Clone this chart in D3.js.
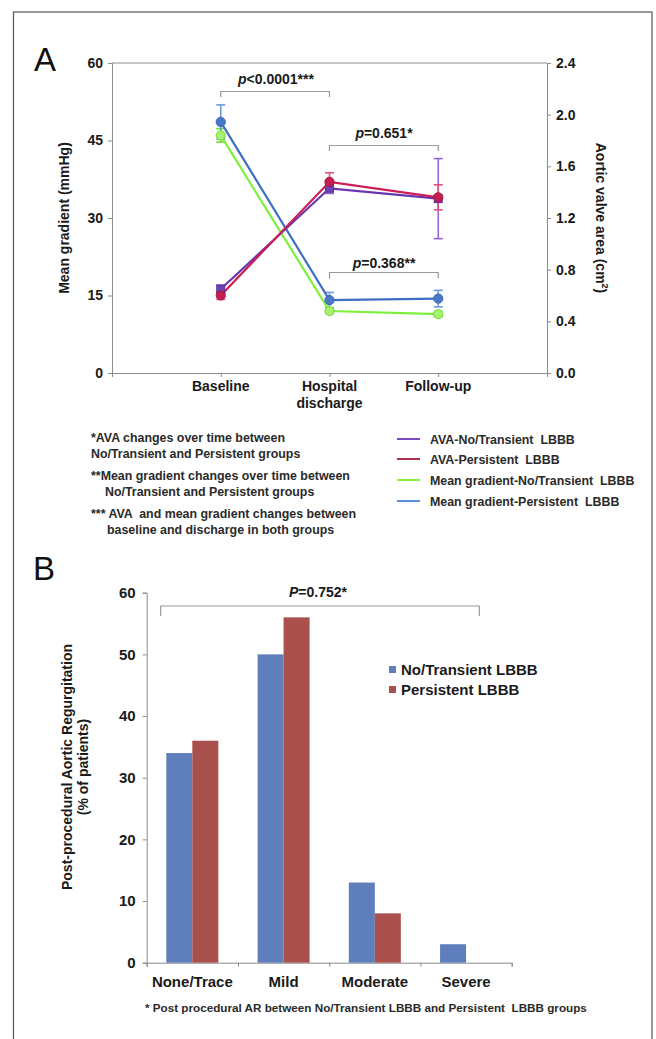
<!DOCTYPE html>
<html>
<head>
<meta charset="utf-8">
<script src="https://cdn.jsdelivr.net/npm/d3@7"></script>
<style>
  html, body { margin: 0; padding: 0; background: #fff; }
  svg { display: block; font-family: "Liberation Sans", Arial, sans-serif; }
</style>
</head>
<body>
<svg id="chart" width="656" height="1039"></svg>
<script>
// ---------- Panel A data ----------
const categoriesA = ["Baseline", "Hospital|discharge", "Follow-up"];
const gradNoTransient = [46.0, 12.0, 11.4];
const gradNoTransientErr = [1.3, 0.5, 0.5];
const gradPersistent = [48.6, 14.1, 14.4];
const gradPersistentErr = [3.3, 1.5, 1.6];
const avaNoTransient = [0.65, 1.43, 1.35];
const avaNoTransientErr = [0.03, 0.04, 0.31];
const avaPersistent = [0.60, 1.48, 1.36];
const avaPersistentErr = [0.03, 0.07, 0.097];
const leftTicksA = [0, 15, 30, 45, 60];
const rightTicksA = [0, 0.4, 0.8, 1.2, 1.6, 2.0, 2.4];
const legendA = ["AVA-No/Transient  LBBB", "AVA-Persistent  LBBB", "Mean gradient-No/Transient  LBBB", "Mean gradient-Persistent  LBBB"];
const footnotesA = [
  ["*AVA changes over time between", "No/Transient and Persistent groups"],
  ["**Mean gradient changes over time between", "No/Transient and Persistent groups"],
  ["*** AVA  and mean gradient changes between", "baseline and discharge in both groups"]
];

// ---------- Panel B data ----------
const categoriesB = ["None/Trace", "Mild", "Moderate", "Severe"];
const seriesB = ["No/Transient LBBB", "Persistent LBBB"];
const noTransientB = [34, 50, 13, 3];
const persistentB = [36, 56, 8, 0];
const ticksB = [0, 10, 20, 30, 40, 50, 60];

const svg = d3.select("#chart");
const txt = "#1a1a1a";
const axisCol = "#8c8c8c";

// frame
svg.append("rect").attr("x", 13.5).attr("y", 12).attr("width", 638.5).attr("height", 1060)
  .attr("fill", "none").attr("stroke", "#555").attr("stroke-width", 1.2);

// ================= PANEL A =================
svg.append("text").attr("x", 34).attr("y", 71).attr("font-size", 33).attr("fill", "#111").text("A");

const xA = d3.scalePoint().domain(categoriesA).range([112, 547]).padding(1);
const yL = d3.scaleLinear().domain([0, 60]).range([373, 63]);
const yR = d3.scaleLinear().domain([0, 2.4]).range([373, 63]);

const gA = svg.append("g");
// plot border
gA.append("line").attr("x1", 112).attr("x2", 547).attr("y1", yL(60)).attr("y2", yL(60)).attr("stroke", axisCol);

const axL = gA.append("g").attr("transform", "translate(112,0)")
  .call(d3.axisLeft(yL).tickValues(leftTicksA).tickSize(4).tickPadding(5).tickFormat(d3.format("d")));
const axR = gA.append("g").attr("transform", "translate(547,0)")
  .call(d3.axisRight(yR).tickValues(rightTicksA).tickSize(4).tickPadding(5).tickFormat(d3.format(".1f")));
const xLin = d3.scaleLinear().domain([0, 4]).range([112, 547]);
const axB = gA.append("g").attr("transform", "translate(0,373)")
  .call(d3.axisBottom(xLin).tickValues([0, 1, 2, 3, 4]).tickSize(4).tickFormat(""));
[axL, axR, axB].forEach(a => {
  a.selectAll("path,line").attr("stroke", axisCol);
  a.selectAll("text").attr("font-size", 14).attr("font-weight", "bold").attr("fill", txt);
});

// x labels
categoriesA.forEach(c => {
  const lines = c.split("|");
  const t = gA.append("text").attr("x", xA(c)).attr("y", 391).attr("text-anchor", "middle")
    .attr("font-size", 14).attr("font-weight", "bold").attr("fill", txt);
  lines.forEach((l, i) => t.append("tspan").attr("x", xA(c)).attr("dy", i === 0 ? 0 : 17).text(l));
});

// axis titles
gA.append("text").attr("transform", "translate(69,218) rotate(-90)").attr("text-anchor", "middle")
  .attr("font-size", 14).attr("font-weight", "bold").attr("fill", txt).text("Mean gradient (mmHg)");
const rt = gA.append("text").attr("transform", "translate(596,218) rotate(90)").attr("text-anchor", "middle")
  .attr("font-size", 14).attr("font-weight", "bold").attr("fill", txt);
rt.append("tspan").text("Aortic valve area (cm");
rt.append("tspan").attr("font-size", 9).attr("dy", -6).text("2");
rt.append("tspan").attr("dy", 6).text(")");

// series definitions
const seriesA = [
  {vals: gradNoTransient, err: gradNoTransientErr, y: yL, line: "#7cf03a", errC: "#6edc2c", fill: "#a6f26e", stroke: "#74d83a", shape: "circle"},
  {vals: gradPersistent, err: gradPersistentErr, y: yL, line: "#3f6fc4", errC: "#6f9ade", fill: "#4a78c8", stroke: "#3a66b8", shape: "circle"},
  {vals: avaNoTransient, err: avaNoTransientErr, y: yR, line: "#6a36b0", errC: "#9466d4", fill: "#7041b4", stroke: "#5e2fa0", shape: "square"},
  {vals: avaPersistent, err: avaPersistentErr, y: yR, line: "#cc1d55", errC: "#e0527c", fill: "#c41f52", stroke: "#a8173f", shape: "circle"}
];

// error bars
seriesA.forEach(s => {
  categoriesA.forEach((c, i) => {
    const x = xA(c), yt = s.y(s.vals[i] + s.err[i]), yb = s.y(s.vals[i] - s.err[i]);
    const g = gA.append("g").attr("stroke", s.errC).attr("stroke-width", 1.6);
    g.append("line").attr("x1", x).attr("x2", x).attr("y1", yt).attr("y2", yb);
    g.append("line").attr("x1", x - 4.5).attr("x2", x + 4.5).attr("y1", yt).attr("y2", yt);
    g.append("line").attr("x1", x - 4.5).attr("x2", x + 4.5).attr("y1", yb).attr("y2", yb);
  });
});
// lines
seriesA.forEach(s => {
  const ln = d3.line().x((d, i) => xA(categoriesA[i])).y(d => s.y(d));
  gA.append("path").attr("d", ln(s.vals)).attr("fill", "none").attr("stroke", s.line).attr("stroke-width", 2.2);
});
// markers
seriesA.forEach(s => {
  s.vals.forEach((v, i) => {
    const x = xA(categoriesA[i]), y = s.y(v);
    if (s.shape === "square") {
      gA.append("rect").attr("x", x - 4).attr("y", y - 4).attr("width", 8).attr("height", 8)
        .attr("fill", s.fill).attr("stroke", s.stroke).attr("stroke-width", 1);
    } else {
      gA.append("circle").attr("cx", x).attr("cy", y).attr("r", 4.6)
        .attr("fill", s.fill).attr("stroke", s.stroke).attr("stroke-width", 1);
    }
  });
});

// significance brackets
function bracket(g, x1, x2, y, h, label, tx, ty, ital) {
  g.append("path").attr("d", `M${x1},${y + h}V${y}H${x2}V${y + h}`).attr("fill", "none")
    .attr("stroke", "#9a9a9a").attr("stroke-width", 1.2);
  const t = g.append("text").attr("x", tx).attr("y", ty).attr("text-anchor", "middle")
    .attr("font-size", 14).attr("font-weight", "bold").attr("fill", txt);
  t.append("tspan").attr("font-style", "italic").text(ital);
  t.append("tspan").text(label);
}
bracket(gA, xA(categoriesA[0]), xA(categoriesA[1]), 91.5, 5.5, "<0.0001***", 276, 84, "p");
bracket(gA, xA(categoriesA[1]), xA(categoriesA[2]), 145.5, 5.5, "=0.651*", 384, 138, "p");
bracket(gA, xA(categoriesA[1]), xA(categoriesA[2]), 272.5, 6, "=0.368**", 384, 268, "p");

// footnotes
const fnY = [[437, 453], [475, 491], [513, 529]];
const fnX = [[91, 91], [91, 105], [91, 107]];
footnotesA.forEach((f, i) => {
  f.forEach((line, j) => {
    gA.append("text").attr("x", fnX[i][j]).attr("y", fnY[i][j] + 4.5).attr("font-size", 12.4)
      .attr("font-weight", "bold").attr("fill", "#2a2a2a").attr("xml:space", "preserve").text(line);
  });
});

// legend A
const legCols = ["#7a4cc0", "#a8324f", "#82f53a", "#5b8fd8"];
const legY = [439, 459, 480, 501];
legendA.forEach((l, i) => {
  gA.append("line").attr("x1", 397).attr("x2", 420).attr("y1", legY[i]).attr("y2", legY[i])
    .attr("stroke", legCols[i]).attr("stroke-width", 2);
  gA.append("text").attr("x", 430).attr("y", legY[i] + 4.5).attr("font-size", 12.4).attr("font-weight", "bold")
    .attr("fill", "#2a2a2a").attr("xml:space", "preserve").text(l);
});

// ================= PANEL B =================
svg.append("text").attr("x", 33).attr("y", 580).attr("font-size", 33).attr("fill", "#111").text("B");

const gB = svg.append("g");
const xB = d3.scaleBand().domain(categoriesB).range([146.7, 511.7]).padding(0);
const bw = xB.bandwidth();
const xSub = d3.scaleBand().domain(seriesB).range([bw * 0.215, bw * 0.785]).padding(0);
const yB = d3.scaleLinear().domain([0, 60]).range([962.7, 592.7]);
const colorsB = ["#5f7fbc", "#a94f4c"];

const ayB = gB.append("g").attr("transform", "translate(146.7,0)")
  .call(d3.axisLeft(yB).tickValues(ticksB).tickSize(4).tickPadding(7).tickFormat(d3.format("d")));
const axXB = gB.append("g").attr("transform", "translate(0,962.7)")
  .call(d3.axisBottom(d3.scaleLinear().domain([0, 4]).range([146.7, 511.7])).tickValues([0, 1, 2, 3, 4]).tickSize(4).tickFormat(""));
[ayB, axXB].forEach(a => {
  a.selectAll("path,line").attr("stroke", axisCol);
  a.selectAll("text").attr("font-size", 15).attr("font-weight", "bold").attr("fill", txt);
});

const dataB = [noTransientB, persistentB];
dataB.forEach((vals, si) => {
  gB.selectAll(null).data(vals).enter().append("rect")
    .attr("x", (d, i) => xB(categoriesB[i]) + xSub(seriesB[si]))
    .attr("width", xSub.bandwidth())
    .attr("y", d => yB(d))
    .attr("height", d => yB(0) - yB(d))
    .attr("fill", colorsB[si]);
});

categoriesB.forEach(c => {
  gB.append("text").attr("x", xB(c) + bw / 2).attr("y", 987).attr("text-anchor", "middle")
    .attr("font-size", 15).attr("font-weight", "bold").attr("fill", txt).text(c);
});

// y title B
const ytB = gB.append("text").attr("transform", "translate(72,767) rotate(-90)").attr("text-anchor", "middle")
  .attr("font-size", 14).attr("font-weight", "bold").attr("fill", txt);
ytB.append("tspan").attr("x", 0).attr("dy", 0).text("Post-procedural Aortic Regurgitation");
ytB.append("tspan").attr("x", 0).attr("dy", 16).text("(% of patients)");

// bracket B
bracket(gB, 160.7, 479.3, 606, 10, "=0.752*", 318, 597, "P");

// legend B
seriesB.forEach((s, i) => {
  gB.append("rect").attr("x", 389).attr("y", 666 + i * 20).attr("width", 7).attr("height", 7).attr("fill", colorsB[i]);
  gB.append("text").attr("x", 401).attr("y", 675 + i * 20).attr("font-size", 15).attr("font-weight", "bold")
    .attr("fill", txt).text(s);
});

// footnote B
gB.append("text").attr("x", 145).attr("y", 1012).attr("font-size", 11.7).attr("font-weight", "bold")
  .attr("fill", "#2a2a2a").attr("xml:space", "preserve").text("* Post procedural AR between No/Transient LBBB and Persistent  LBBB groups");
</script>
</body>
</html>
